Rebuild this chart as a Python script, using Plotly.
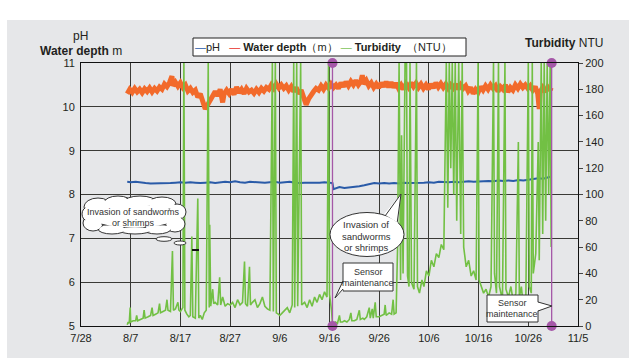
import pandas as pd
import plotly.graph_objects as go

# ---------------- data ----------------
BASE_DATE = "2012-07-28"
x_tick_days = [0, 10, 20, 30, 40, 50, 60, 70, 80, 90, 100]
x_tick_labels = ["7/28", "8/7", "8/17", "8/27", "9/6", "9/16", "9/26", "10/6", "10/16", "10/26", "11/5"]
left_tick_vals = [5, 6, 7, 8, 9, 10, 11]
right_tick_vals = [0, 20, 40, 60, 80, 100, 120, 140, 160, 180, 200]

ph_days = [9.3, 10, 11, 12, 13, 14, 15, 16, 17, 18, 19, 20, 21, 22, 23, 24, 25, 26, 27, 28, 29, 30,
           31, 32, 33, 34, 35, 36, 37, 38, 39, 40, 41, 42, 43, 44, 45, 46, 47, 48, 49, 50, 50.6,
           50.8, 51.5, 52, 53, 54, 55, 56, 57, 58, 59, 60, 61, 62, 63, 64, 65, 66, 67, 68, 69, 70,
           71, 72, 73, 74, 75, 76, 77, 78, 79, 80, 81, 82, 83, 84, 85, 86, 87, 88, 89, 90, 91, 92,
           93, 94, 94.6]
ph_values = [8.29, 8.28, 8.29, 8.27, 8.26, 8.25, 8.25, 8.26, 8.25, 8.26, 8.27, 8.28, 8.27, 8.28,
             8.27, 8.26, 8.27, 8.28, 8.26, 8.27, 8.29, 8.28, 8.30, 8.28, 8.27, 8.29, 8.28, 8.28,
             8.27, 8.28, 8.29, 8.27, 8.28, 8.29, 8.27, 8.26, 8.27, 8.27, 8.26, 8.27, 8.28, 8.27,
             8.26, 8.12, 8.14, 8.17, 8.15, 8.16, 8.17, 8.19, 8.21, 8.24, 8.26, 8.25, 8.26, 8.25,
             8.26, 8.25, 8.27, 8.26, 8.26, 8.27, 8.27, 8.28, 8.27, 8.29, 8.28, 8.28, 8.29, 8.28,
             8.29, 8.30, 8.29, 8.30, 8.30, 8.31, 8.30, 8.32, 8.31, 8.32, 8.31, 8.33, 8.32, 8.34,
             8.35, 8.37, 8.36, 8.39, 8.41]

depth_days = [9.3, 9.8, 10.3, 10.8, 11.3, 11.8, 12.3, 12.8, 13.3, 13.8, 14.3, 14.8, 15.3, 15.8,
              16.3, 16.8, 17.3, 17.8, 18.3, 18.5, 19.0, 19.5, 20.0, 20.5, 21.0, 21.5, 22.0, 22.5,
              23.0, 23.5, 24.0, 24.5, 25.0, 25.5, 26.0, 26.5, 27.0, 27.5, 28.0, 28.5, 28.8, 29.3,
              29.8, 30.3, 30.8, 31.3, 31.8, 32.3, 32.8, 33.3, 33.8, 34.3, 34.8, 35.3, 35.8, 36.3,
              36.8, 37.3, 37.8, 38.3, 38.8, 39.3, 39.8, 40.3, 40.8, 41.3, 41.8, 42.3, 42.8, 43.3,
              43.8, 44.3, 44.8, 45.3, 45.8, 46.3, 46.8, 47.3, 47.8, 48.3, 48.8, 49.3, 49.8, 50.3,
              50.8, 51.3, 51.8, 52.3, 52.8, 53.3, 53.8, 54.3, 54.8, 55.3, 55.8, 56.3, 56.6, 56.9,
              57.4, 57.9, 58.4, 58.9, 59.4, 59.9, 60.4, 60.9, 61.4, 61.9, 62.4, 62.9, 63.4, 63.9,
              64.4, 64.9, 65.4, 65.9, 66.4, 66.9, 67.4, 67.9, 68.4, 68.9, 69.4, 69.9, 70.4, 70.9,
              71.4, 71.9, 72.4, 72.9, 73.4, 73.9, 74.4, 74.9, 75.4, 75.9, 76.4, 76.9, 77.4, 77.9,
              78.4, 78.9, 79.4, 79.9, 80.4, 80.9, 81.4, 81.9, 82.4, 82.9, 83.4, 83.9, 84.4, 84.9,
              85.4, 85.9, 86.4, 86.9, 87.4, 87.9, 88.4, 88.9, 89.4, 89.9, 90.4, 90.9, 91.4, 91.9,
              92.2, 92.4, 92.9, 93.4, 93.9, 94.4, 94.6]
depth_values = [10.30, 10.40, 10.33, 10.42, 10.34, 10.40, 10.32, 10.41, 10.35, 10.43, 10.34, 10.42,
                10.36, 10.45, 10.40, 10.52, 10.46, 10.55, 10.70, 10.48, 10.56, 10.47, 10.55, 10.44,
                10.50, 10.36, 10.42, 10.33, 10.38, 10.22, 10.30, 10.08, 9.95, 10.05, 10.15, 10.28,
                10.35, 10.25, 10.40, 10.10, 10.30, 10.38, 10.30, 10.40, 10.28, 10.45, 10.32, 10.40,
                10.30, 10.42, 10.34, 10.38, 10.31, 10.40, 10.33, 10.42, 10.36, 10.44, 10.40, 10.50,
                10.42, 10.52, 10.43, 10.50, 10.42, 10.48, 10.38, 10.46, 10.35, 10.44, 10.30, 10.38,
                10.20, 10.05, 10.18, 10.28, 10.35, 10.42, 10.38, 10.48, 10.40, 10.50, 10.43, 10.52,
                10.44, 10.50, 10.42, 10.55, 10.46, 10.57, 10.48, 10.58, 10.50, 10.60, 10.50, 10.58,
                10.72, 10.52, 10.60, 10.48, 10.55, 10.44, 10.52, 10.43, 10.55, 10.46, 10.57, 10.45,
                10.56, 10.44, 10.54, 10.42, 10.50, 10.40, 10.52, 10.44, 10.55, 10.46, 10.54, 10.44,
                10.52, 10.42, 10.50, 10.40, 10.52, 10.43, 10.55, 10.45, 10.53, 10.44, 10.52, 10.42,
                10.50, 10.43, 10.52, 10.40, 10.50, 10.42, 10.48, 10.36, 10.44, 10.30, 10.40, 10.33,
                10.46, 10.38, 10.48, 10.40, 10.50, 10.42, 10.48, 10.35, 10.46, 10.40, 10.50, 10.34,
                10.44, 10.38, 10.50, 10.42, 10.52, 10.44, 10.50, 10.42, 10.48, 10.38, 10.46, 10.30,
                9.95, 10.35, 10.44, 10.34, 10.45, 10.38, 10.44]

turb_days = [9.3, 9.5, 9.7, 9.9, 10.0, 10.5, 11.0, 11.2, 11.4, 12.0, 12.5, 12.7, 12.9, 13.5, 14.0,
             14.3, 14.5, 15.0, 15.5, 15.8, 16.0, 16.5, 17.0, 17.3, 17.5, 18.0, 18.4, 18.6, 19.0,
             19.5, 19.7, 20.0, 20.5, 20.7, 20.9, 21.3, 21.7, 22.0, 22.3, 22.5, 23.0, 23.5, 23.7,
             24.0, 24.4, 24.8, 25.2, 25.6, 25.8, 25.9, 26.1, 26.5, 26.7, 27.0, 27.5, 27.9, 28.1,
             28.5, 29.0, 29.5, 30.0, 30.5, 31.0, 31.5, 32.0, 32.5, 32.9, 33.1, 33.5, 33.9, 34.1,
             34.5, 35.0, 35.5, 36.0, 36.5, 37.0, 37.5, 38.0, 38.5, 38.7, 39.1, 39.3, 39.7, 40.0,
             40.5, 41.0, 41.5, 42.0, 42.5, 42.8, 43.0, 43.4, 43.6, 44.2, 44.4, 45.0, 45.5, 46.0,
             46.5, 47.0, 47.5, 48.0, 48.5, 49.0, 49.5, 49.8, 50.0, 50.4, 50.6,
             50.8, 51.2, 51.6, 52.0, 52.2, 52.6, 53.0, 53.5, 54.0, 54.3, 54.5, 55.0, 55.5, 56.0,
             56.2, 56.7, 57.0, 57.5, 58.0, 58.2, 58.6, 58.8, 59.2, 59.4, 60.0, 60.5, 61.0, 61.2,
             61.4, 62.0, 62.5, 62.8, 63.0,
             63.4, 63.7, 64.0, 64.3, 64.5, 64.8, 65.2, 65.5, 65.7, 66.0, 66.2, 66.5, 67.0, 67.5,
             67.7, 68.1, 68.6, 69.0, 69.5, 70.0, 70.5, 71.0, 71.5, 72.0, 72.5, 73.0, 73.5, 73.8,
             74.1, 74.4, 74.7, 75.0, 75.3, 75.6, 76.0, 76.4, 76.7, 77.0, 77.5, 78.0, 78.5, 79.0,
             79.5, 79.9, 80.1, 80.5, 81.0, 81.5, 82.0, 82.5, 83.0, 83.2, 83.6, 84.0, 84.2, 84.8,
             85.3, 85.5, 86.0, 86.5, 87.0, 87.5, 88.0, 88.2, 88.6, 89.0, 89.5, 90.0, 90.2, 90.6,
             90.8, 91.0, 91.5, 92.0, 92.2, 92.6, 92.9, 93.2, 93.5, 93.8, 94.1, 94.4, 94.6]
turb_ntu = [1, 3, 2, 14, 3, 4, 4, 8, 4, 5, 6, 12, 6, 7, 8,
            14, 8, 9, 10, 17, 10, 11, 12, 20, 12, 11, 57, 12, 13,
            18, 12, 11, 14, 200, 12, 9, 7, 8, 68, 7, 6, 97, 6,
            8, 5, 10, 12, 200, 14, 77, 15, 28, 17, 18, 16, 37, 16,
            22, 15, 17, 16, 18, 14, 20, 16, 18, 49, 17, 15, 45, 16,
            18, 20, 14, 17, 22, 15, 13, 12, 200, 11, 200, 10, 9, 8,
            10, 12, 14, 10, 16, 200, 14, 200, 15, 200, 16, 18, 14, 20,
            15, 22, 18, 24, 20, 26, 22, 200, 24, 12, 2,
            2, 3, 2, 8, 3, 3, 4, 3, 5, 10, 4, 4, 5, 12,
            5, 6, 5, 7, 14, 6, 13, 6, 18, 7, 7, 8, 9, 16,
            8, 10, 9, 20, 9,
            10, 60, 200, 35, 145, 40, 200, 200, 38, 30, 200, 33, 28, 200,
            30, 25, 35, 30, 42, 38, 50, 45, 55, 52, 62, 58, 200, 90,
            200, 120, 200, 100, 200, 80, 200, 70, 200, 60, 45, 50, 38, 42,
            35, 200, 35, 30, 25, 28, 22, 30, 200, 40, 25, 200, 30, 20,
            200, 28, 22, 30, 18, 25, 140, 22, 30, 15, 20, 200, 30, 25,
            200, 40, 55, 140, 50, 200, 70, 200, 80, 200, 100, 200, 60]

maintenance_days = [50.6, 94.7]

# ---------------- helpers ----------------
base = pd.Timestamp(BASE_DATE)


def to_dates(days):
    return [base + pd.Timedelta(days=d) for d in days]


W, H = 629, 358
L, R, T, B = 81, 578, 63, 326


def px(x):
    return (x - L) / (R - L)


def py(y):
    return (B - y) / (B - T)


FONT = "Liberation Sans, Arial, sans-serif"

BLUE = "#2a5ba8"
ORANGE = "#f26a2b"
GREEN = "#72c044"
PURPLE = "#a558a8"

fig = go.Figure()

fig.add_trace(go.Scatter(x=to_dates(depth_days), y=depth_values, mode="lines",
                         line=dict(color=ORANGE, width=5), showlegend=False, yaxis="y"))
fig.add_trace(go.Scatter(x=to_dates(ph_days), y=ph_values, mode="lines",
                         line=dict(color=BLUE, width=2), showlegend=False, yaxis="y"))
fig.add_trace(go.Scatter(x=to_dates(turb_days), y=turb_ntu, mode="lines",
                         line=dict(color=GREEN, width=1.6), showlegend=False, yaxis="y2"))
for d in maintenance_days:
    fig.add_trace(go.Scatter(x=to_dates([d, d]), y=[0, 200], mode="lines+markers",
                             line=dict(color=PURPLE, width=1.3),
                             marker=dict(color=PURPLE, size=10),
                             cliponaxis=False, showlegend=False, yaxis="y2"))

shapes = []
# grey panel background
shapes.append(dict(type="rect", xref="paper", yref="paper", x0=px(7), x1=px(629), y0=py(358), y1=py(20),
                   fillcolor="#e6e7e9", line=dict(width=0), layer="below"))

# legend box
shapes.append(dict(type="rect", xref="paper", yref="paper", x0=px(193), x1=px(466), y0=py(56), y1=py(38),
                   fillcolor="white", line=dict(color="#222", width=1)))


def ell(cx, cy, rx, ry, fill="white", lw=1.0, lc="#333"):
    return dict(type="circle", xref="paper", yref="paper",
                x0=px(cx - rx), x1=px(cx + rx), y0=py(cy + ry), y1=py(cy - ry),
                fillcolor=fill, line=dict(color=lc, width=lw))


def path(points, fill="white", lw=0, lc="#333", close=True):
    s = "M " + " L ".join(f"{px(x)},{py(y)}" for x, y in points)
    if close:
        s += " Z"
    d = dict(type="path", xref="paper", yref="paper", path=s, line=dict(color=lc, width=lw))
    if fill:
        d["fillcolor"] = fill
    return d


# cloud bubble
cloud = [(98, 207, 14, 9), (118, 203, 14, 7), (140, 202, 16, 6), (162, 204, 14, 7), (177, 212, 9, 8),
         (175, 224, 10, 8), (157, 229, 14, 5), (135, 230, 16, 4), (112, 229, 14, 5), (93, 223, 10, 8),
         (88, 214, 6, 7), (134, 216, 44, 12)]
for c in cloud:
    shapes.append(ell(*c, lw=1.0))
for cx, cy, rx, ry in cloud:
    shapes.append(ell(cx, cy, rx - 1.3, ry - 1.3, lw=0))
shapes.append(ell(164, 239, 8, 2.3, lw=1.0))
shapes.append(ell(180, 243, 6, 2.0, lw=1.0))
shapes.append(dict(type="line", xref="paper", yref="paper", x0=px(192), x1=px(199), y0=py(250), y1=py(250),
                   line=dict(color="#111", width=2)))

# ellipse speech bubble
shapes.append(ell(367, 234.5, 37, 22, lw=1.0))
shapes.append(path([(384, 214), (398, 223), (401, 194)], fill="white", lw=0))
shapes.append(path([(385.5, 215.4), (401, 194), (397.3, 221.9)], fill=None, lw=1.0, close=False))

# sensor maintenance boxes
shapes.append(dict(type="rect", xref="paper", yref="paper", x0=px(343), x1=px(393), y0=py(291), y1=py(263),
                   fillcolor="white", line=dict(color="#333", width=1)))
shapes.append(path([(344, 281), (344, 289), (335, 298)], fill="white", lw=0))
shapes.append(path([(343, 281), (335, 298), (343, 289)], fill=None, lw=1.0, close=False))

shapes.append(dict(type="rect", xref="paper", yref="paper", x0=px(487), x1=px(538), y0=py(322), y1=py(295),
                   fillcolor="white", line=dict(color="#333", width=1)))
shapes.append(path([(537, 302), (537, 311), (552, 306)], fill="white", lw=0))
shapes.append(path([(538, 302), (552, 306), (538, 311)], fill=None, lw=1.0, close=False))

annotations = []


def txt(x, y, text, size=11, family=FONT, color="#231f20", xanchor="center"):
    annotations.append(dict(xref="paper", yref="paper", x=px(x), y=py(y), text=text, showarrow=False,
                            xanchor=xanchor, yanchor="middle", font=dict(size=size, family=family, color=color)))


# axis titles
txt(80, 36, "pH", size=12)
txt(81, 51, "<b>Water depth</b> m", size=12)
txt(564, 43, "<b>Turbidity</b> NTU", size=12)

# legend text
txt(323, 47,
    f'<span style="color:{BLUE}">—</span>pH\u00a0\u00a0\u00a0'
    f'<span style="color:#e8302a">—</span>\u00a0<b>Water depth</b>（m）\u00a0'
    f'<span style="color:#7dc45a">—</span>\u00a0<b>Turbidity</b>\u00a0\u00a0（NTU）',
    size=11)

# bubble texts
txt(133, 212, "Invasion of sandworms", size=9, color="#333")
txt(133, 223, "or shrimps", size=9, color="#333")
txt(366, 225, "Invasion of", size=9.5, color="#333")
txt(366, 236, "sandworms", size=9.5, color="#333")
txt(366, 247, "or shrimps", size=9.5, color="#333")
txt(368, 272, "Sensor", size=9, color="#333")
txt(368, 283, "maintenance", size=9, color="#333")
txt(512, 303, "Sensor", size=9, color="#333")
txt(512, 314, "maintenance", size=9, color="#333")

GRID = "#3a3a36"
fig.update_layout(
    width=W, height=H,
    margin=dict(l=L, r=W - R, t=T, b=H - B, pad=0),
    paper_bgcolor="white",
    plot_bgcolor="#f5f5c9",
    showlegend=False,
    font=dict(family=FONT, size=11, color="#231f20"),
    xaxis=dict(type="date", range=[base, base + pd.Timedelta(days=100)],
               tickvals=to_dates(x_tick_days), ticktext=x_tick_labels,
               showgrid=True, gridcolor=GRID, gridwidth=1.3,
               showline=True, linecolor="#111", linewidth=1, mirror=True,
               ticks="", zeroline=False, tickfont=dict(size=11), ticklabelstandoff=2),
    yaxis=dict(range=[5, 11], tickvals=left_tick_vals, showgrid=True, gridcolor=GRID, gridwidth=1.3,
               showline=True, linecolor="#111", linewidth=1, mirror=True, ticks="",
               zeroline=False, tickfont=dict(size=11), ticklabelstandoff=3),
    yaxis2=dict(range=[0, 200], tickvals=right_tick_vals, overlaying="y", side="right",
                showgrid=False, zeroline=False, ticks="outside", ticklen=4, tickcolor="#444",
                showline=False, tickfont=dict(size=11)),
    shapes=shapes,
    annotations=annotations,
)

fig.write_html("out.html", config={"displayModeBar": False},
               post_script="document.body.style.margin='0';document.body.style.overflow='hidden';")
